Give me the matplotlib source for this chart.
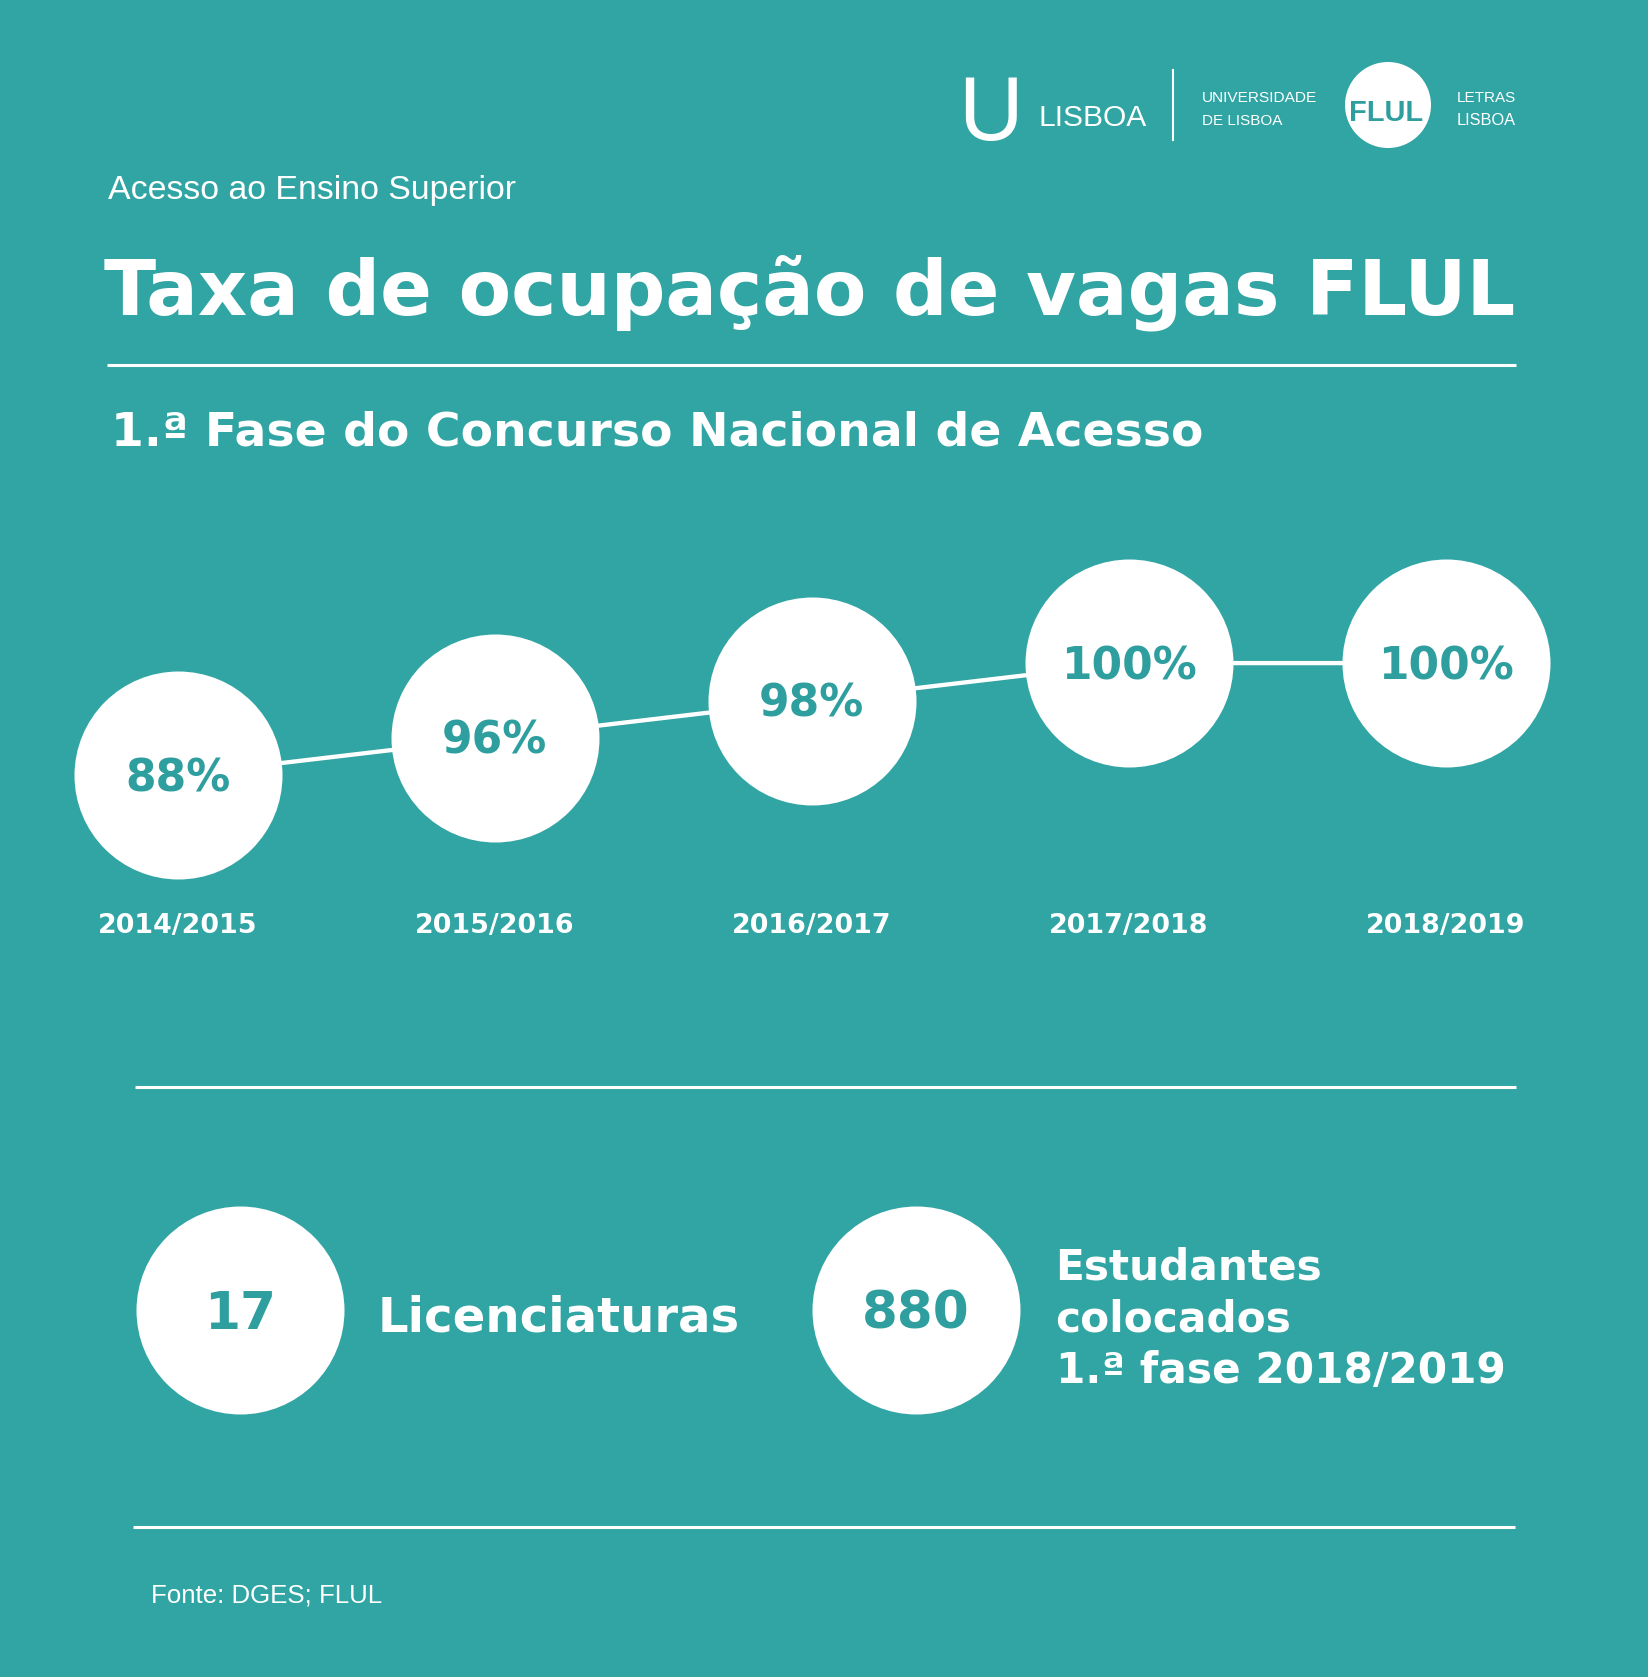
import matplotlib
matplotlib.use('Agg')
import matplotlib.pyplot as plt
from matplotlib import font_manager
from matplotlib.patches import Circle

# ---------------- data ----------------
years = ['2014/2015', '2015/2016', '2016/2017', '2017/2018', '2018/2019']
occupancy = [88, 96, 98, 100, 100]
summary_values = [17, 880]
summary_labels = ['Licenciaturas', 'Estudantes\ncolocados\n1.ª fase 2018/2019']
kicker = 'Acesso ao Ensino Superior'
title = 'Taxa de ocupação de vagas FLUL'
subtitle = '1.ª Fase do Concurso Nacional de Acesso'
source = 'Fonte: DGES; FLUL'
logo_texts = ['U', 'LISBOA', 'UNIVERSIDADE', 'DE LISBOA', 'FLUL', 'LETRAS', 'LISBOA']

# ---------------- style ----------------
W, H, DPI = 1648, 1677, 100
BG = '#31A4A4'
TEAL = '#2E9E9E'
WHITE = 'white'

installed = {f.name for f in font_manager.fontManager.ttflist}
BOLD = 'DejaVu Sans'
REG = 'Liberation Sans' if 'Liberation Sans' in installed else 'DejaVu Sans'
if 'Liberation Sans Narrow' in installed:
    NARROW = 'Liberation Sans Narrow'
elif 'DejaVu Sans Condensed' in installed:
    NARROW = 'DejaVu Sans Condensed'
else:
    NARROW = REG

fig = plt.figure(figsize=(W / DPI, H / DPI), dpi=DPI, facecolor=BG)
renderer = fig.canvas.get_renderer()

bg = fig.add_axes([0, 0, 1, 1])
bg.set_xlim(0, W)
bg.set_ylim(H, 0)
bg.axis('off')
bg.set_zorder(0)


def fit(t, width):
    w = t.get_window_extent(renderer).width
    t.set_fontsize(t.get_fontsize() * width / w)
    return t


def fit_h(t, height):
    h = t.get_window_extent(renderer).height
    t.set_fontsize(t.get_fontsize() * height / h)
    return t


def ptext(x, y, s, width, family, weight='normal', color=WHITE, ha='left'):
    t = bg.text(x, y, s, ha=ha, va='baseline', color=color,
                family=family, fontweight=weight, fontsize=20)
    return fit(t, width)


# ---------------- logo ----------------
u = bg.text(991, 140, logo_texts[0], ha='center', va='baseline', color=WHITE,
            family=NARROW, fontsize=20)
fit_h(u, 84)
ptext(1038.7, 126, logo_texts[1], 108, NARROW)
bg.plot([1173.4, 1173.4], [70, 140], color=WHITE, lw=1.5)
ptext(1202, 101.7, logo_texts[2], 115, NARROW)
ptext(1202, 125, logo_texts[3], 80.5, NARROW)
bg.add_patch(Circle((1388, 105), 43, color=WHITE, lw=0))
ptext(1386, 120.7, logo_texts[4], 74, NARROW, 'bold', color=TEAL, ha='center')
ptext(1456.6, 101.7, logo_texts[5], 59, NARROW)
ptext(1456.6, 125, logo_texts[6], 59, NARROW)

# ---------------- headings ----------------
ptext(108, 199, kicker, 408, REG)
ptext(104, 314, title, 1411, BOLD, 'bold')
bg.plot([107, 1516], [365, 365], color=WHITE, lw=2.2, solid_capstyle='butt')
ptext(111, 445, subtitle, 1093, BOLD, 'bold')

# ---------------- main chart ----------------
step_x, x0 = 317.0, 177.5
step_y, y0 = 37.4, 775.3
left_px = x0 - 0.5 * step_x
bottom_px = y0 + 0.5 * step_y
ax = fig.add_axes([left_px / W, (H - bottom_px) / H, 5 * step_x / W, 4 * step_y / H])
ax.set_zorder(2)
ax.patch.set_alpha(0)

labels = [f'{v}%' for v in occupancy]
ax.plot(years, labels, color=WHITE, lw=3.1, zorder=1, solid_capstyle='butt')
ax.scatter(years, labels, s=(2 * 104 * 72 / DPI) ** 2, color=WHITE,
           linewidths=0, zorder=2, clip_on=False)
ax.set_xlim(-0.5, 4.5)
ax.set_ylim(-0.5, 3.5)
ax.axis('off')

pct_texts = []
for yr, lab in zip(years, labels):
    xi = ax.xaxis.convert_units(yr)
    yi = ax.yaxis.convert_units(lab)
    t = ax.annotate(lab, xy=(xi, yi), xytext=(0, 0), textcoords='offset points',
                    ha='center', va='baseline', color=TEAL, family=BOLD,
                    fontweight='bold', fontsize=20, zorder=3, annotation_clip=False)
    pct_texts.append(t)
fit(pct_texts[-1], 136)
fs = pct_texts[-1].get_fontsize()
for t in pct_texts:
    t.set_fontsize(fs)
    t.xyann = (0, -0.3645 * fs)

year_texts = []
for yr in years:
    xi = ax.xaxis.convert_units(yr)
    t = ax.annotate(yr, xy=(xi, H - 933), xycoords=('data', 'figure pixels'),
                    ha='center', va='baseline', color=WHITE, family=BOLD,
                    fontweight='bold', fontsize=20, annotation_clip=False)
    year_texts.append(t)
fit(year_texts[0], 160)
for t in year_texts:
    t.set_fontsize(year_texts[0].get_fontsize())

bg.plot([135, 1516], [1086.5, 1086.5], color=WHITE, lw=2.2, solid_capstyle='butt')

# ---------------- summary ----------------
sx0, sstep, sy = 240.0, 676.0, 1310.0
ax2 = fig.add_axes([(sx0 - 0.5 * sstep) / W, (H - sy - 50) / H, 2 * sstep / W, 100 / H])
ax2.set_zorder(2)
ax2.patch.set_alpha(0)
snum = [str(v) for v in summary_values]
ax2.scatter(snum, [0] * len(snum), s=(2 * 104 * 72 / DPI) ** 2, color=WHITE,
            linewidths=0, clip_on=False, zorder=2)
ax2.set_xlim(-0.5, 1.5)
ax2.set_ylim(-1, 1)
ax2.axis('off')
num_texts = []
for s in snum:
    xi = ax2.xaxis.convert_units(s)
    t = ax2.annotate(s, xy=(xi, 0), xytext=(0, 0), textcoords='offset points',
                     ha='center', va='baseline', color=TEAL, family=BOLD,
                     fontweight='bold', fontsize=20, zorder=3, annotation_clip=False)
    num_texts.append(t)
fit(num_texts[1], 108)
fs2 = num_texts[1].get_fontsize()
for t in num_texts:
    t.set_fontsize(fs2)
    t.xyann = (0, -0.3645 * fs2)

ptext(377.5, 1331.7, summary_labels[0], 362.5, BOLD, 'bold')
lines = summary_labels[1].split('\n')
baselines = [1280, 1331.7, 1383]
longest = max(range(len(lines)), key=lambda i: len(lines[i]))
tmp = ptext(1055.6, baselines[longest], lines[longest], 450, BOLD, 'bold')
for i, ln in enumerate(lines):
    if i != longest:
        bg.text(1055.6, baselines[i], ln, ha='left', va='baseline', color=WHITE,
                family=BOLD, fontweight='bold', fontsize=tmp.get_fontsize())

bg.plot([133, 1515], [1526.5, 1526.5], color=WHITE, lw=2.2, solid_capstyle='butt')
ptext(151, 1602.7, source, 231, REG)

fig.savefig('out.png', dpi=DPI, facecolor=BG)
